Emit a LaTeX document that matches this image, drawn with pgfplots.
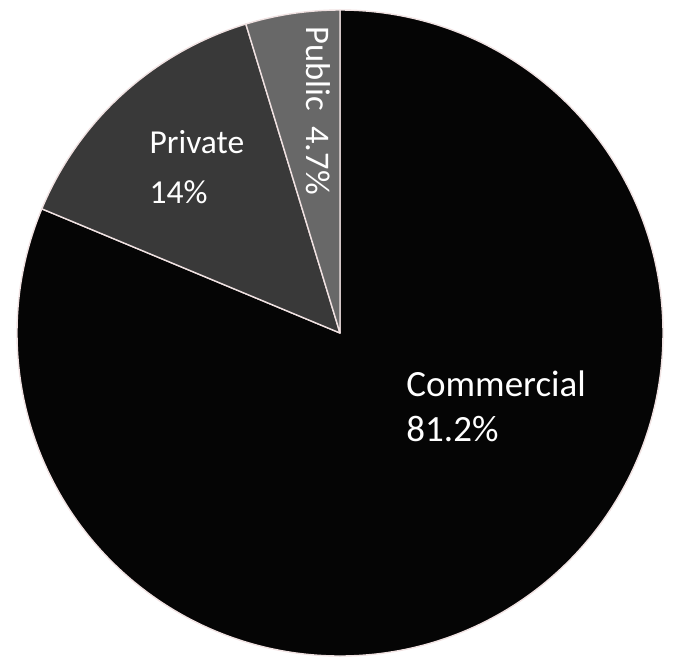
\documentclass[border=0pt]{standalone}
\usepackage{pgfplots}
\usepackage{pgfplotstable}
\pgfplotsset{compat=1.18}
\usepackage{fontspec}
\setmainfont{Carlito}

\definecolor{commcol}{RGB}{5,5,5}
\definecolor{privcol}{RGB}{57,57,57}
\definecolor{pubcol}{RGB}{104,104,104}
\definecolor{edgecol}{RGB}{240,226,226}

\pgfplotstableread{
label value
Commercial 81.2
Private 14
Public 4.7
}\piedata

\pgfplotstablegetelem{0}{value}\of\piedata \let\vA\pgfplotsretval
\pgfplotstablegetelem{1}{value}\of\piedata \let\vB\pgfplotsretval
\pgfplotstablegetelem{2}{value}\of\piedata \let\vC\pgfplotsretval
\pgfmathsetmacro\tot{\vA+\vB+\vC}
\pgfmathsetmacro\aA{90-360*(\vA/\tot)}
\pgfmathsetmacro\aB{\aA-360*(\vB/\tot)}
\pgfmathsetmacro\aC{\aB-360*(\vC/\tot)}

\begin{document}
\begin{tikzpicture}
\begin{axis}[
  hide axis,
  x=323pt, y=323pt,
  xmin=-1.0526, xmax=1.0372,
  ymin=-1.0, ymax=1.031,
  clip=true,
]
\fill[commcol, draw=edgecol, line width=1.4pt, line join=round]
  (axis cs:0,0) -- ++(90:323pt) arc[start angle=90, end angle=\aA, radius=323pt] -- cycle;
\fill[privcol, draw=edgecol, line width=1.4pt, line join=round]
  (axis cs:0,0) -- ++(\aA:323pt) arc[start angle=\aA, end angle=\aB, radius=323pt] -- cycle;
\fill[pubcol, draw=edgecol, line width=1.4pt, line join=round]
  (axis cs:0,0) -- ++(\aB:323pt) arc[start angle=\aB, end angle=\aC, radius=323pt] -- cycle;

\node[anchor=base west, inner sep=0, text=white, font=\fontsize{37}{44}\selectfont] at (axis cs:0.205,-0.198) {Commercial};
\node[anchor=base west, inner sep=0, text=white, font=\fontsize{37}{44}\selectfont] at (axis cs:0.205,-0.337) {81.2\%};
\node[anchor=base west, inner sep=0, text=white, font=\fontsize{33.5}{40}\selectfont] at (axis cs:-0.590,0.557) {Private};
\node[anchor=base west, inner sep=0, text=white, font=\fontsize{33.5}{40}\selectfont] at (axis cs:-0.590,0.402) {14\%};
\node[anchor=base west, inner sep=0, text=white, rotate=-90, font=\fontsize{34.5}{40}\selectfont] at (axis cs:-0.105,0.950) {Public\ \ 4.7\%};
\end{axis}
\pgfresetboundingbox
\useasboundingbox (current axis.south west) rectangle (current axis.north east);
\end{tikzpicture}
\end{document}
